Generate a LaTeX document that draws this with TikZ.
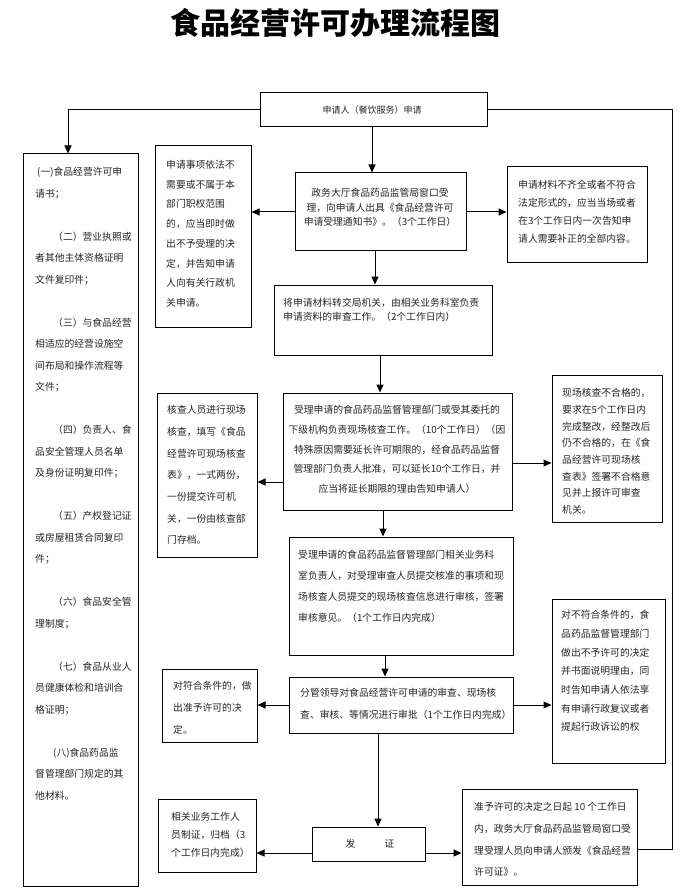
\documentclass[tikz,border=0pt]{standalone}
\usepackage{fontspec}
\newfontfamily\cjk{Noto Sans CJK SC}
\usetikzlibrary{arrows.meta}
\newcommand\LinesL[1]{\begin{tabular}[t]{@{}l@{}}#1\end{tabular}}
\newcommand\LinesC[1]{\begin{tabular}[t]{@{}c@{}}#1\end{tabular}}
\begin{document}
\begin{tikzpicture}[x=1pt,y=-1pt,
  box/.style={draw, line width=1pt, inner sep=0pt},
  txt/.style={font=\cjk\fontsize{9.8}{#1}\selectfont, text=black!85, inner sep=0pt, anchor=base west},
  ctxt/.style={font=\cjk\fontsize{9.8}{#1}\selectfont, text=black!85, inner sep=0pt, anchor=base},
  arr/.style={line width=1pt, -{Triangle[length=8pt,width=7pt]}},
  ln/.style={line width=1pt}]
\useasboundingbox (0,0) rectangle (690,890);
\fill[white] (0,0) rectangle (690,890);

% title
\node[font=\cjk\bfseries\fontsize{30}{30}\selectfont, inner sep=0pt] (title) at (335,23) {食品经营许可办理流程图};

% boxes
\node[box, minimum width=227, minimum height=34] (top) at (373.5,110) {};
\node[box, minimum width=115, minimum height=732] (lb) at (80.5,520) {};
\node[box, minimum width=96, minimum height=181] (l1) at (203,236.5) {};
\node[box, minimum width=171, minimum height=78] (b2) at (380.5,212) {};
\node[box, minimum width=140, minimum height=96] (r1) at (577,215) {};
\node[box, minimum width=218, minimum height=70] (b3) at (383,320) {};
\node[box, minimum width=100, minimum height=164] (l2) at (207,475) {};
\node[box, minimum width=229, minimum height=117] (b4) at (397.5,451.5) {};
\node[box, minimum width=110, minimum height=147] (r2) at (607,448.5) {};
\node[box, minimum width=224, minimum height=118] (b5) at (401,596) {};
\node[box, minimum width=95, minimum height=73] (l3) at (209.5,705.5) {};
\node[box, minimum width=224, minimum height=56] (b6) at (401,705) {};
\node[box, minimum width=113, minimum height=164] (r3) at (608.5,681) {};
\node[box, minimum width=98, minimum height=73] (l4) at (207,835.5) {};
\node[box, minimum width=113, minimum height=34] (fz) at (368.5,844) {};
\node[box, minimum width=175, minimum height=96] (r4) at (549.5,837) {};

% texts
\node[font=\cjk\fontsize{9}{11}\selectfont, text=black!85, inner sep=0pt] (ttop) at (372,110) {申请人（餐饮服务）申请};

\node[txt=21.5] (tlb) at (35,175.6) {\LinesL{\hspace*{2pt}(一)食品经营许可申\\
请书；\\[21.5pt]
\hspace*{18pt}（二）营业执照或\\
者其他主体资格证明\\
文件复印件；\\[21.5pt]
\hspace*{18pt}（三）与食品经营\\
相适应的经营设施空\\
间布局和操作流程等\\
文件；\\[21.5pt]
\hspace*{18pt}（四）负责人、食\\
品安全管理人员名单\\
及身份证明复印件；\\[21.5pt]
\hspace*{18pt}（五）产权登记证\\
或房屋租赁合同复印\\
件；\\[21.5pt]
\hspace*{18pt}（六）食品安全管\\
理制度；\\[21.5pt]
\hspace*{18pt}（七）食品从业人\\
员健康体检和培训合\\
格证明；\\[21.5pt]
\hspace*{18pt}(八)食品药品监\\
督管理部门规定的其\\
他材料。}};

\node[txt=19.7] (tl1) at (166,168.6) {\LinesL{申请事项依法不\\需要或不属于本\\部门职权范围\\的，应当即时做\\出不予受理的决\\定，并告知申请\\人向有关行政机\\关申请。}};

\node[ctxt=14.5] (tb2) at (380,196.6) {\LinesC{政务大厅食品药品监管局窗口受\\理，向申请人出具《食品经营许可\\申请受理通知书》。（3个工作日）}};

\node[txt=18] (tr1) at (518,188.6) {\LinesL{申请材料不齐全或者不符合\\法定形式的，应当当场或者\\在3个工作日内一次告知申\\请人需要补正的全部内容。}};

\node[txt=13.8] (tb3) at (283,306.6) {\LinesL{将申请材料转交局机关，由相关业务科室负责\\申请资料的审查工作。（2个工作日内）}};

\node[txt=21.7] (tl2) at (167,413.6) {\LinesL{核查人员进行现场\\核查，填写《食品\\经营许可现场核查\\表》，一式两份，\\一份提交许可机\\关，一份由核查部\\门存档。}};

\node[ctxt=19.7] (tb4) at (397,413.6) {\LinesC{受理申请的食品药品监督管理部门或受其委托的\\下级机构负责现场核查工作。（10个工作日）（因\\特殊原因需要延长许可期限的，经食品药品监督\\管理部门负责人批准，可以延长10个工作日，并\\应当将延长期限的理由告知申请人）}};

\node[txt=16.7] (tr2) at (562,396.6) {\LinesL{现场核查不合格的，\\要求在5个工作日内\\完成整改，经整改后\\仍不合格的，在《食\\品经营许可现场核\\查表》签署不合格意\\见并上报许可审查\\机关。}};

\node[txt=21] (tb5) at (298,558.6) {\LinesL{受理申请的食品药品监督管理部门相关业务科\\室负责人，对受理审查人员提交核准的事项和现\\场核查人员提交的现场核查信息进行审核，签署\\审核意见。（1个工作日内完成）}};

\node[txt=22] (tb6) at (300,696.6) {\LinesL{分管领导对食品经营许可申请的审查、现场核\\查、审核、等情况进行审批（1个工作日内完成）}};

\node[txt=22] (tl3) at (173,689.6) {\LinesL{对符合条件的，做\\出准予许可的决\\定。}};

\node[txt=18.7] (tr3) at (561,618.6) {\LinesL{对不符合条件的，食\\品药品监督管理部门\\做出不予许可的决定\\并书面说明理由，同\\时告知申请人依法享\\有申请行政复议或者\\提起行政诉讼的权}};

\node[txt=18] (tl4) at (171,820.6) {\LinesL{相关业务工作人\\员制证，归档（3\\个工作日内完成）}};

\node[font=\cjk\fontsize{9.8}{12}\selectfont, text=black!85, inner sep=0pt] (tfz) at (370,844) {发\hspace{29pt}证};

\node[txt=21.7] (tr4) at (474,810.6) {\LinesL{准予许可的决定之日起 10 个工作日\\内，政务大厅食品药品监管局窗口受\\理受理人员向申请人颁发《食品经营\\许可证》。}};

% helper coordinates
\coordinate (cL) at (68,0);
\coordinate (cR) at (672,849);
\coordinate (cA) at (372,0);
\coordinate (cB) at (375,0);
\coordinate (cC) at (380,0);
\coordinate (cD) at (0,482);
\coordinate (cE) at (0,463);
\coordinate (cF) at (383,0);
\coordinate (cG) at (385,0);
\coordinate (cH) at (378,0);
\coordinate (cI) at (0,853);

% connectors
\draw[arr] (top.west) -| (cL |- lb.north);
\draw[ln] (top.east) -| (cR) -- (cR -| r4.east);
\draw[arr] (cA |- top.south) -- (cA |- b2.north);
\draw[arr] (b2.west) -- (b2.west -| l1.east);
\draw[arr] (b2.east) -- (b2.east -| r1.west);
\draw[arr] (cB |- b2.south) -- (cB |- b3.north);
\draw[arr] (cC |- b3.south) -- (cC |- b4.north);
\draw[arr] (b4.west |- cD) -- (l2.east |- cD);
\draw[arr] (b4.east |- cE) -- (r2.west |- cE);
\draw[arr] (cF |- b4.south) -- (cF |- b5.north);
\draw[arr] (cG |- b5.south) -- (cG |- b6.north);
\draw[arr] (b6.west) -- (b6.west -| l3.east);
\draw[arr] (b6.east) -- (b6.east -| r3.west);
\draw[arr] (cH |- b6.south) -- (cH |- fz.north);
\draw[arr] (fz.west |- cI) -- (l4.east |- cI);
\draw[arr] (fz.east |- cI) -- (r4.west |- cI);
\end{tikzpicture}
\end{document}
